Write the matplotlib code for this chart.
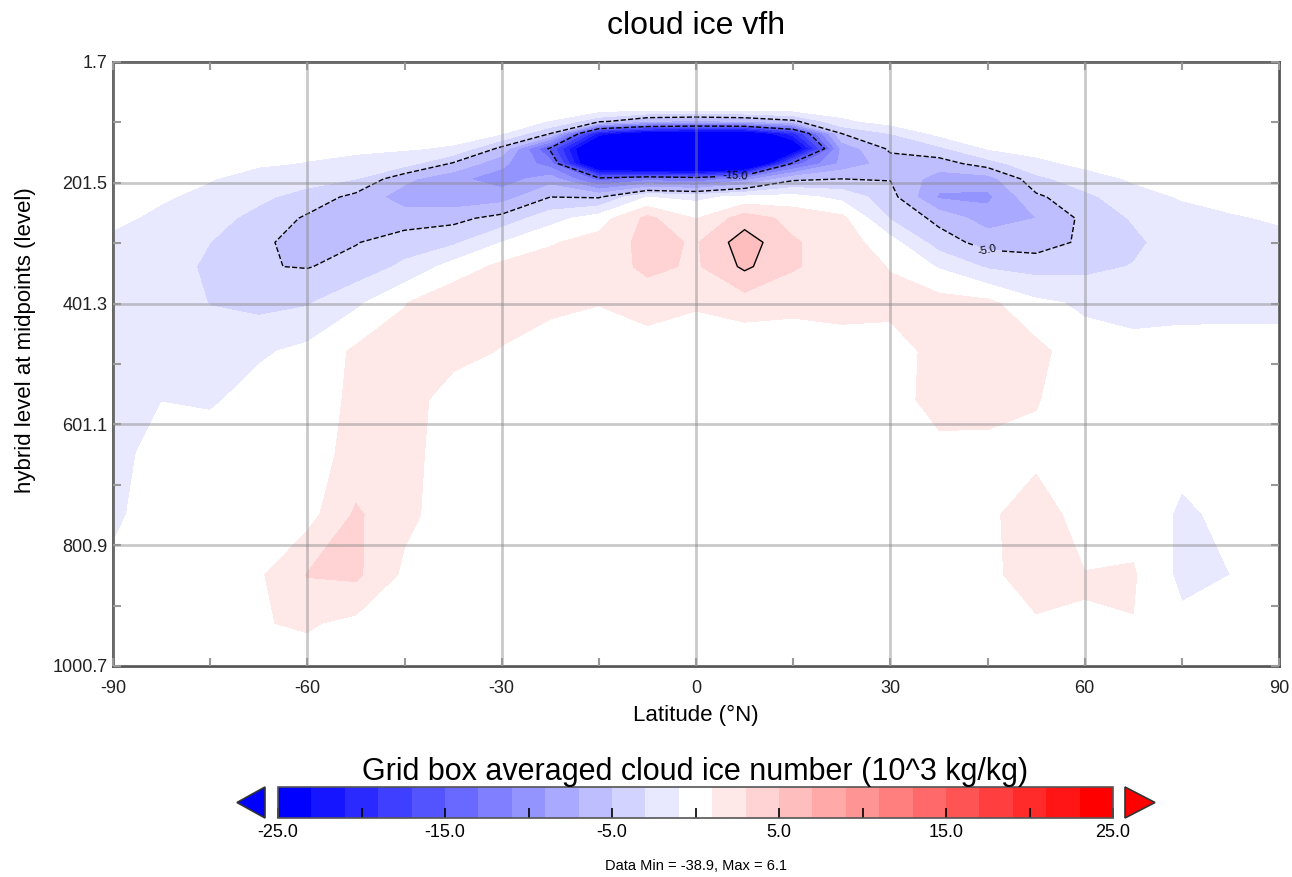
import numpy as np
import matplotlib
matplotlib.use('Agg')
import matplotlib.pyplot as plt
from matplotlib.colors import ListedColormap, BoundaryNorm
from matplotlib.cm import ScalarMappable
from matplotlib.patches import Polygon

plt.rcParams['font.family'] = ['Liberation Sans', 'DejaVu Sans']
plt.rcParams['axes.unicode_minus'] = False

# grid
lat = np.arange(-90, 90.1, 7.5)
lev = [1.7, 80, 100, 120, 145, 170, 195, 225, 260, 300, 340, 400, 480,
       560, 650, 750, 850, 930, 1000.7]

# cloud ice number difference (10^3 kg/kg), one row per level, cols = lat
cice = [
    [0]*25,
    [0, 0, 0, 0, 0, 0, 0, 0, 0, 0, -0.2, -0.6, -0.6, -0.5, -0.3, 0, 0, 0, 0, 0, 0, 0, 0, 0, 0],
    [0, 0, 0, 0, 0, 0, 0, 0, -0.2, -1.1, -4.5, -7, -7.5, -7, -5.5, -1.5, -0.2, 0, 0, 0, 0, 0, 0, 0, 0],
    [0, 0, 0, 0, 0, -0.2, -0.3, -0.4, -0.9, -5.0, -22, -26, -27, -27, -20, -5.0, -3.0, -0.5, 0, 0, 0, 0, 0, 0, 0],
    [0, 0, 0, -0.3, -0.5, -0.7, -0.85, -1.2, -5.6, -15.5, -30, -36, -38.9, -36, -27, -8.5, -4.6, -3.5, -0.9, -0.4, 0, 0, 0, 0, 0],
    [0, 0, -0.4, -0.8, -1.1, -1.5, -2.2, -5.3, -8.5, -12, -30, -34, -35, -33, -14, -8.5, -6.0, -6.0, -4.0, -1.5, -0.6, -0.3, 0, 0, 0],
    [0, -0.2, -0.9, -1.7, -2.2, -3.0, -6.5, -8.5, -10, -8, -14, -12, -13, -10, -5.5, -5.0, -5.1, -8.0, -8.0, -3.6, -1.8, -0.8, -0.5, 0, 0],
    [0, -0.8, -1.5, -2.6, -3.8, -5.6, -8.0, -8.5, -8.0, -5.0, -5.2, -1, -1.5, -0.5, -0.3, -1.6, -4.2, -9.3, -9.5, -5.4, -3.6, -1.6, -0.9, -0.4, -0.2],
    [-0.6, -1.4, -2.3, -3.6, -5.3, -6.5, -6.0, -5.6, -4.3, -1.8, 0, 3.5, 0.9, 4.0, 2.4, 1.5, -3.2, -5.6, -8, -7.0, -4.5, -2.8, -1.5, -1.2, -0.8],
    [-1.4, -1.8, -3.0, -4.7, -5.6, -5.1, -4.0, -3.4, -1.0, 0.8, 1.8, 3.6, 2.8, 6.1, 3.2, 2.0, -0.2, -4.0, -5.8, -6.0, -4.6, -3.5, -1.8, -1.6, -1.5],
    [-1.8, -2.0, -3.4, -4.9, -5.1, -4.3, -2.6, -0.2, 1.5, 1.9, 1.8, 3.5, 2.7, 5.4, 3.2, 2.0, 0.9, -1.2, -3.3, -3.8, -3.6, -2.9, -1.9, -1.7, -1.7],
    [-2.0, -2.2, -3.05, -3.6, -3.2, -1.4, 0.9, 2.5, 1.8, 1.4, 1.05, 1.8, 1.2, 2.0, 1.6, 1.8, 1.5, 1.8, 1.5, -0.6, -1.3, -2.0, -1.6, -1.5, -1.5],
    [-2.0, -1.8, -2.2, -1.3, -0.5, 1.35, 1.8, 1.6, 0.9, 0.2, 0.2, 0.1, 0, -0.5, -0.3, 0, 0.2, 1.6, 2.2, 1.6, -0.3, -0.2, -0.3, -0.4, -0.4],
    [-2.0, -1.05, -1.3, -0.2, 0, 1.4, 1.8, 0.2, 0, 0, 0, 0, 0, 0, 0, 0, 0, 1.9, 2.0, 1.1, 0, 0, 0, 0, 0],
    [-1.9, 0, 0.2, 0, 0.2, 1.6, 1.7, 0, 0, 0, 0, 0, 0, 0, 0, 0, 0, 0.3, 0.2, 0.6, 0, 0, -0.5, -0.2, 0],
    [-1.5, 0.3, 0.5, 0.3, 0.2, 3.3, 1.5, 0, 0, 0, 0, 0, 0, 0, 0, 0, 0, 0, 0.7, 1.8, 0.3, 0.2, -1.3, -0.6, 0],
    [-0.45, 0.2, 0.4, 0.7, 3.1, 3.4, 0.6, 0, 0, 0, 0, 0, 0, 0, 0, 0, 0, 0, 0.6, 1.8, 1.05, 1.2, -1.5, -1.0, 0],
    [0, 0, 0.1, 0.9, 1.2, 0.5, 0, 0, 0, 0, 0, 0, 0, 0, 0, 0, 0, 0, 0, 0.8, 0.95, 0.95, -0.6, -0.3, 0],
    [0, 0, 0, 0.4, 0.3, 0, 0, 0, 0, 0, 0, 0, 0, 0, 0, 0, 0, 0, 0, 0, 0, 0, 0, 0, 0],
]

yticks = [1.7, 201.5, 401.3, 601.1, 800.9, 1000.7]
yminor = [101.6, 301.4, 501.2, 701.0, 900.8]
cbticks = [-25, -15, -5, 5, 15, 25]

levels = np.arange(-25, 26, 2)
shade = np.linspace(0, 0.91, 12)
colors = [(s, s, 1) for s in shade] + [(1, 1, 1)] + [(1, s, s) for s in shade[::-1]]
cmap = ListedColormap(colors)
cmap.set_under('#0000ff')
cmap.set_over('#ff0000')
norm = BoundaryNorm(levels, cmap.N)

W, H = 1292, 877
fig = plt.figure(figsize=(W / 100, H / 100), dpi=100)
ax = fig.add_axes([113 / W, 1 - 666 / H, 1166 / W, 604 / H])

cf = ax.contourf(lat, lev, cice, levels=levels, cmap=cmap, norm=norm, extend='both')
cs = ax.contour(lat, lev, cice, levels=[-15, -5, 5], colors='k', linewidths=1.0)
ax.clabel(cs, levels=[-15, -5], manual=[(6, 192), (45, 313)], fmt='%.1f', fontsize=8)

ax.set_xlim(-90, 90)
ax.set_ylim(1000.7, 1.7)
ax.set_xticks(np.arange(-90, 91, 30))
ax.set_xticks(np.arange(-75, 90, 30), minor=True)
ax.set_yticks(yticks)
ax.set_yticklabels([f'{t:.1f}' for t in yticks])
ax.set_yticks(yminor, minor=True)
ax.tick_params(which='both', direction='in', top=True, right=True,
               color='#999999', width=1.5, length=6, labelsize=13,
               labelcolor='#222222', pad=4)
ax.tick_params(axis='x', pad=10)
ax.set_axisbelow(False)
ax.grid(True, which='major', color='#888888', alpha=0.45, lw=2)
for sp in ax.spines.values():
    sp.set_color('#555555')
    sp.set_linewidth(2)

ax.set_xlabel('Latitude (°N)', fontsize=16, labelpad=6)
ax.set_ylabel('hybrid level at midpoints (level)', fontsize=16)
ax.yaxis.set_label_coords(-0.066, 0.54)
ax.set_title('cloud ice vfh', fontsize=23, pad=20)

# colour bar body, with the end arrows drawn apart from it
cax = fig.add_axes([278 / W, 1 - 818 / H, 835 / W, 31 / H])
cb = fig.colorbar(ScalarMappable(norm=norm, cmap=cmap), cax=cax,
                  orientation='horizontal', boundaries=levels, ticks=cbticks)
cb.set_ticklabels([f'{t:.1f}' for t in cbticks])
cb.ax.set_xticks([-20, -10, 0, 10, 20], minor=True)
cb.ax.tick_params(which='both', direction='in', length=7, width=1.2,
                  color='k', labelsize=13, pad=4)
cb.outline.set_edgecolor('#555555')
cb.outline.set_linewidth(1.2)
cax.set_title('Grid box averaged cloud ice number (10^3 kg/kg)', fontsize=22, pad=3)

for tip, base, col in [(237, 265, cmap.get_under()), (1155, 1125, cmap.get_over())]:
    tri = Polygon([(tip / W, 1 - 802.5 / H), (base / W, 1 - 787 / H), (base / W, 1 - 818 / H)],
                  closed=True, transform=fig.transFigure, facecolor=col,
                  edgecolor='#333333', lw=1.2)
    fig.patches.append(tri)

fig.text(696 / W, 1 - 866 / H, 'Data Min = -38.9, Max = 6.1', ha='center',
         va='center', fontsize=10.5)

fig.savefig('out.png', dpi=100)
